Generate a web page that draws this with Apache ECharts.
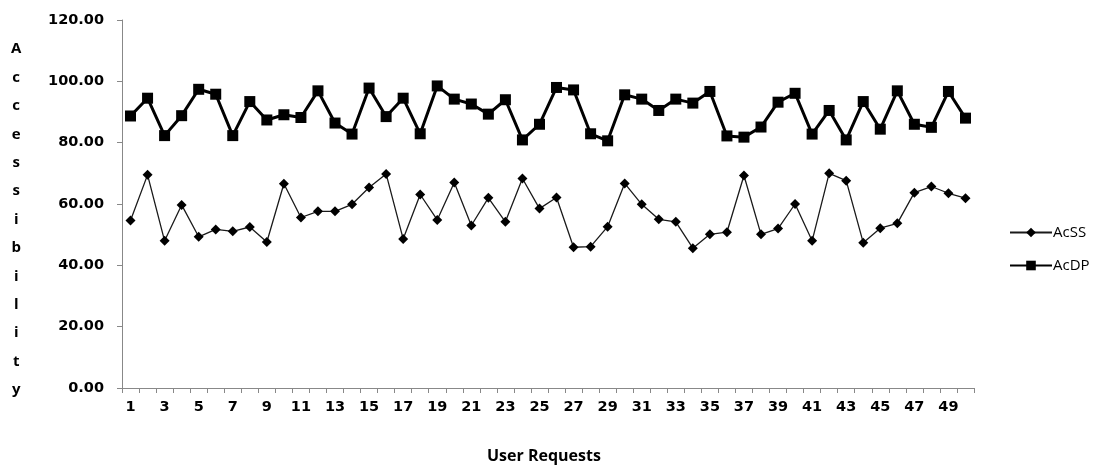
<!DOCTYPE html>
<html><head><meta charset="utf-8">
<script src="https://cdn.jsdelivr.net/npm/echarts@6/dist/echarts.min.js"></script>
<style>html,body{margin:0;padding:0;background:#fff}#c{width:1098px;height:471px}</style>
</head><body><div id="c"></div>
<script>
const categories = Array.from({length: 50}, (_, i) => String(i + 1));
const acSS = [54.6,69.5,48.0,59.7,49.3,51.7,51.1,52.5,47.6,66.6,
              55.6,57.6,57.6,59.9,65.4,69.8,48.6,63.1,54.8,67.0,
              53.0,62.0,54.2,68.3,58.5,62.1,45.9,46.1,52.6,66.7,
              59.9,55.0,54.2,45.6,50.1,50.8,69.3,50.1,52.0,60.0,
              48.0,70.0,67.6,47.4,52.1,53.7,63.7,65.7,63.5,61.9];
const acDP = [88.7,94.5,82.3,88.8,97.4,95.8,82.3,93.4,87.4,89.1,
              88.2,96.9,86.4,82.8,97.8,88.5,94.5,82.9,98.5,94.2,
              92.6,89.3,94.0,80.9,86.0,98.0,97.2,82.9,80.6,95.6,
              94.2,90.5,94.2,92.9,96.7,82.2,81.8,85.1,93.2,96.1,
              82.8,90.5,80.9,93.4,84.4,96.9,86.0,85.0,96.7,88.0];
const yTitle = "Accessibility";
const xTitle = "User Requests";

const chart = echarts.init(document.getElementById('c'), null, {renderer: 'canvas'});
const lblFont = {fontFamily: '"DejaVu Sans", sans-serif', fontWeight: 'bold', fontSize: 14.5, color: '#000'};
chart.setOption({
  animation: false,
  grid: {left: 122, right: 124, top: 20, bottom: 83, containLabel: false},
  xAxis: {
    type: 'category', data: categories, boundaryGap: true,
    axisLine: {lineStyle: {color: '#888', width: 1}},
    axisTick: {show: true, interval: 0, length: 5, inside: false, lineStyle: {color: '#888'}},
    axisLabel: Object.assign({interval: 1, margin: 12}, lblFont),
    splitLine: {show: false}
  },
  yAxis: {
    type: 'value', min: 0, max: 120, interval: 20,
    axisLine: {show: true, lineStyle: {color: '#888', width: 1}},
    axisTick: {show: true, length: 5, lineStyle: {color: '#888'}},
    axisLabel: Object.assign({margin: 18, formatter: v => v.toFixed(2)}, lblFont),
    splitLine: {show: false}
  },
  legend: {
    orient: 'vertical', left: 1004, top: 220, itemGap: 18,
    itemWidth: 42, itemHeight: 12,
    textStyle: {fontFamily: '"Open Sans", sans-serif', fontSize: 15, color: '#000', padding: [0,0,0,-4]},
    data: ['AcSS', 'AcDP']
  },
  graphic: [
    {type: 'text', left: 11, top: 35, style: {text: yTitle.split('').join('\n'), lineHeight: 28.4, align: 'center',
      font: 'bold 15px "Open Sans", sans-serif', fill: '#000', textAlign: 'center'}},
    {type: 'text', left: 487, top: 448, style: {text: xTitle,
      font: 'bold 16px "Open Sans", sans-serif', fill: '#000'}}
  ],
  series: [
    {name: 'AcSS', type: 'line', data: acSS, symbol: 'diamond', symbolSize: 10,
      lineStyle: {color: '#1a1a1a', width: 1.3}, itemStyle: {color: '#000'}},
    {name: 'AcDP', type: 'line', data: acDP, symbol: 'rect', symbolSize: 11,
      lineStyle: {color: '#000', width: 3}, itemStyle: {color: '#000'}}
  ]
});
</script></body></html>
